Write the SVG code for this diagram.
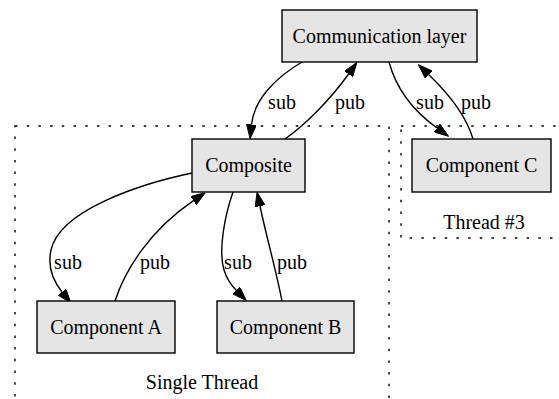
<svg xmlns="http://www.w3.org/2000/svg" width="559" height="399" viewBox="0 0 559 399" font-family="'Liberation Serif', 'Times New Roman', Times, serif">
  <style>
    .cluster { fill: none; stroke: #000; stroke-width: 1.4; stroke-dasharray: 2.5 9.2; }
    .node rect { fill: #e5e5e5; stroke: #000; stroke-width: 1.4; }
    text { font-family: 'Liberation Serif', 'Times New Roman', Times, serif; font-size: 20px; fill: #000; text-anchor: middle; }
    .edge { fill: none; stroke: #000; stroke-width: 1.4; marker-end: url(#arrow); }
  </style>
  <defs>
    <marker id="arrow" viewBox="0 0 10 7" refX="0" refY="3.5" markerUnits="userSpaceOnUse" markerWidth="14.4" markerHeight="10" orient="auto">
      <path d="M0,0 L10,3.5 L0,7 z" fill="#000" stroke="#000" stroke-width="0.6"/>
    </marker>
  </defs>
  <rect width="559" height="399" fill="#fff"/>

  <!-- clusters -->
  <g id="cluster_single">
    <rect class="cluster" x="15" y="126" width="374" height="276"/>
    <text x="202" y="389">Single Thread</text>
  </g>
  <g id="cluster_thread3">
    <rect class="cluster" x="401" y="126" width="166" height="112"/>
    <text x="484" y="229">Thread #3</text>
  </g>

  <!-- connectors -->
  <g id="edges">
    <path class="edge" d="M302,62 C275,78 254,100 251.5,124.6"/>
    <text x="282" y="109">sub</text>
    <path class="edge" d="M285,139 C305,125 330,100 348.6,74"/>
    <text x="350" y="109">pub</text>
    <path class="edge" d="M389,62 C396,88 412,110 437,128"/>
    <text x="430" y="109">sub</text>
    <path class="edge" d="M473,139 C466,115 450,95 428.6,74.5"/>
    <text x="476" y="109">pub</text>
    <path class="edge" d="M192,173 C140,184 60,210 51,250 C47,268 54,282 62,292"/>
    <text x="68" y="269">sub</text>
    <path class="edge" d="M115,301 C125,270 150,230 193.5,200.6"/>
    <text x="155" y="269">pub</text>
    <path class="edge" d="M233,192 C225,215 218,250 224,270 C227,280 231,285 236.4,290.5"/>
    <text x="238" y="269">sub</text>
    <path class="edge" d="M282,301 C276,270 266,235 260,206"/>
    <text x="292" y="269">pub</text>
  </g>

  <!-- nodes -->
  <g id="comm" class="node">
    <rect x="282" y="10" width="195" height="52"/>
    <text x="379.5" y="42.5">Communication layer</text>
  </g>
  <g id="composite" class="node">
    <rect x="192" y="139" width="113" height="53"/>
    <text x="248.5" y="172">Composite</text>
  </g>
  <g id="componentC" class="node">
    <rect x="412" y="139" width="139" height="53"/>
    <text x="481.5" y="172">Component C</text>
  </g>
  <g id="componentA" class="node">
    <rect x="37" y="301" width="138" height="52"/>
    <text x="106" y="333.5">Component A</text>
  </g>
  <g id="componentB" class="node">
    <rect x="217" y="301" width="137" height="52"/>
    <text x="285.5" y="333.5">Component B</text>
  </g>
</svg>
